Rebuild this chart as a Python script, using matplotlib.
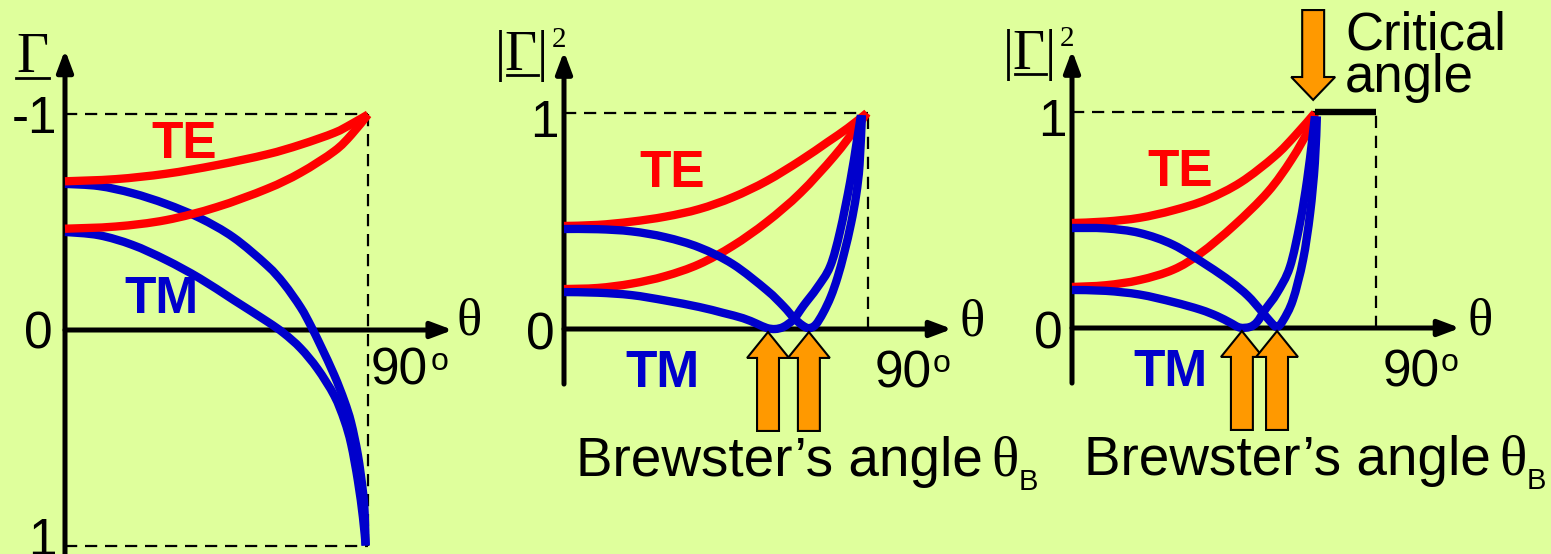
import matplotlib
matplotlib.use("Agg")
import matplotlib.pyplot as plt
from matplotlib.patches import FancyArrow, PathPatch
from matplotlib.path import Path

W, H = 1551, 554
BG = "#dfff9c"
RED = "#ff0000"
BLUE = "#0000cc"
ORANGE = "#ff9900"
SANS = "Liberation Sans"
SERIF = "Liberation Serif"

# ---- panel 1 : reflection coefficient Gamma (axis runs -1 at top to 1 at bottom)
p1_te_theta = [0, 15, 30, 45, 60, 70, 80, 85, 90]
p1_te_hi = [-0.69, -0.70, -0.725, -0.765, -0.815, -0.86, -0.915, -0.955, -1.0]
p1_te_lo = [-0.47, -0.48, -0.51, -0.57, -0.655, -0.73, -0.83, -0.905, -1.0]
p1_tm_hi_theta = [0, 10, 20, 30, 40, 50, 60, 65, 70, 73, 76, 80, 83, 85, 87, 88.5, 89.0,
                  89.3]
p1_tm_hi = [-0.678, -0.668, -0.635, -0.585, -0.52, -0.43, -0.30, -0.215, -0.105, -0.02,
            0.075, 0.21, 0.33, 0.43, 0.58, 0.75, 0.85, 1.0]
p1_tm_lo_theta = [0, 10, 20, 30, 40, 50, 60, 65, 70, 75, 80, 83, 85, 87, 88.5, 89.3]
p1_tm_lo = [-0.455, -0.44, -0.395, -0.325, -0.24, -0.14, -0.04, 0.015, 0.085, 0.18, 0.305,
            0.42, 0.53, 0.70, 0.87, 1.0]

# ---- panel 2 : |Gamma|^2, external reflection
p2_te_hi_theta = [0, 10, 20, 30, 40, 50, 60, 70, 78, 84, 89.7]
p2_te_hi = [0.477, 0.482, 0.497, 0.52, 0.555, 0.61, 0.685, 0.78, 0.865, 0.93, 1.0]
p2_te_lo_theta = [0, 10, 20, 30, 40, 50, 60, 70, 80, 86.7, 89.7]
p2_te_lo = [0.185, 0.19, 0.21, 0.245, 0.30, 0.385, 0.495, 0.63, 0.80, 0.935, 1.0]
p2_tm_a_theta = [0, 10, 20, 30, 40, 50, 60, 65, 68, 70.5, 72.5, 74.5, 76.7, 79, 81, 83, 85,
                 86.5, 87.5, 88.2]
p2_tm_a = [0.463, 0.462, 0.452, 0.425, 0.378, 0.30, 0.18, 0.105, 0.052, 0.018, 0.004, 0.02,
           0.074, 0.15, 0.24, 0.355, 0.49, 0.62, 0.76, 0.99]
p2_tm_b_theta = [0, 10, 20, 30, 40, 47, 53, 57, 60, 62.5, 65, 68, 71, 74.9, 78.8, 81.7, 84.7,
                 86.7, 87.9]
p2_tm_b = [0.171, 0.168, 0.157, 0.132, 0.102, 0.075, 0.05, 0.025, 0.005, 0.0, 0.01, 0.045,
           0.11, 0.19, 0.29, 0.45, 0.68, 0.87, 0.99]
p2_brewster = [60.4, 72.5]

# ---- panel 3 : |Gamma|^2, internal reflection with critical angle
p3_te_hi_theta = [0, 10, 20, 30, 40, 50, 60, 66, 71.9]
p3_te_hi = [0.486, 0.493, 0.51, 0.545, 0.595, 0.675, 0.795, 0.89, 0.995]
p3_te_lo_theta = [0, 10, 20, 30, 38, 48, 58, 65, 70.5, 71.9]
p3_te_lo = [0.19, 0.198, 0.222, 0.27, 0.345, 0.475, 0.63, 0.78, 0.93, 0.995]
p3_tm_a_theta = [0, 10, 20, 30, 40, 47, 52, 56, 59, 60.7, 62.5, 65.4, 68.4, 70.5, 71.9, 72.5]
p3_tm_a = [0.463, 0.461, 0.44, 0.385, 0.29, 0.215, 0.15, 0.08, 0.025, 0.005, 0.035, 0.13,
           0.315, 0.532, 0.764, 0.98]
p3_tm_b_theta = [0, 10, 20, 30, 38, 43, 46.8, 49.7, 52.7, 54.8, 57.1, 60.7, 64.5, 67.5, 69.6,
                 71.1, 71.9]
p3_tm_b = [0.176, 0.172, 0.155, 0.12, 0.085, 0.055, 0.025, 0.002, 0.005, 0.028, 0.083, 0.162,
           0.282, 0.486, 0.685, 0.87, 0.98]
p3_brewster = [50.3, 60.7]
p3_critical = 71.9

fig = plt.figure(figsize=(W / 100, H / 100), dpi=100, facecolor=BG)


def make_panel(left, right, x0, y0, sx, sy, flip=False):
    # one axes per panel, sized so theta/value units land where the sketch has them
    ax = fig.add_axes([left / W, 0, (right - left) / W, 1])
    ax.set_xlim((left - x0) / sx, (right - x0) / sx)
    if flip:
        ax.set_ylim((H - y0) / sy, -y0 / sy)
    else:
        ax.set_ylim((y0 - H) / sy, y0 / sy)
    ax.axis("off")
    return ax


def curve(ax, x, y, color):
    # smooth line through the read points (Catmull-Rom drawn as cubic Bezier segments)
    pts = list(zip(x, y))
    verts = [pts[0]]
    codes = [Path.MOVETO]
    n = len(pts)
    for i in range(n - 1):
        p0 = pts[max(i - 1, 0)]
        p1 = pts[i]
        p2 = pts[i + 1]
        p3 = pts[min(i + 2, n - 1)]
        c1 = (p1[0] + (p2[0] - p0[0]) / 6, p1[1] + (p2[1] - p0[1]) / 6)
        c2 = (p2[0] - (p3[0] - p1[0]) / 6, p2[1] - (p3[1] - p1[1]) / 6)
        verts += [c1, c2, p2]
        codes += [Path.CURVE4] * 3
    ax.add_patch(PathPatch(Path(verts, codes), fill=False, edgecolor=color, lw=6.0,
                           capstyle="butt", joinstyle="round", clip_on=False, zorder=3))


def dashed(ax, x, y):
    ax.plot(x, y, color="k", lw=1.6, ls=(0, (5.5, 3.5)), clip_on=False)


def axis_arrow(ax, start, tip):
    ax.annotate("", xy=tip, xytext=start,
                arrowprops=dict(arrowstyle="-|>,head_length=0.8,head_width=0.3",
                                mutation_scale=16, lw=3.6, color="k",
                                shrinkA=0, shrinkB=0), annotation_clip=False)


def block_arrow(ax, x, y, dy, width, head_w, head_l):
    ax.add_patch(FancyArrow(x, y, 0, dy, width=width, head_width=head_w, head_length=head_l,
                            length_includes_head=True, fc=ORANGE, ec="k", lw=1.5,
                            clip_on=False, zorder=4))


def label(ax, x, y, s, size=37, family=SANS, **kw):
    kw.setdefault("ha", "center")
    kw.setdefault("va", "baseline")
    ax.text(x, y, s, fontsize=size, family=family, clip_on=False, **kw)


def power_panel(ax, te_hi, te_lo, tm_a, tm_b, brewster, top_end):
    dashed(ax, [0, top_end], [1, 1])
    dashed(ax, [90, 90], [0, 1])
    axis_arrow(ax, (0, -0.255), (0, 1.285))
    axis_arrow(ax, (0, 0), (114.9, 0))
    curve(ax, te_hi[0], te_hi[1], RED)
    curve(ax, te_lo[0], te_lo[1], RED)
    curve(ax, tm_a[0], tm_a[1], BLUE)
    curve(ax, tm_b[0], tm_b[1], BLUE)
    for b in brewster:
        block_arrow(ax, b, -0.472, 0.458, 6.5, 12.4, 0.12)
    label(ax, -12.4, 1.199, "|Γ|", size=40, family=SERIF)
    ax.plot([-16.9, -7.7], [1.176, 1.176], color="k", lw=2.0, clip_on=False)
    label(ax, -1.6, 1.305, "2", size=21, family=SERIF)
    label(ax, -1.5, 0.889, "1", ha="right")
    label(ax, -2.8, -0.097, "0", ha="right")
    label(ax, 120.7, -0.032, "θ", size=38, family=SERIF)
    label(ax, 92.1, -0.269, "90", ha="left")
    label(ax, 111.8, -0.199, "o", size=23)
    label(ax, 32.0, 0.657, "TE", weight="bold", color=RED)
    label(ax, 29.0, -0.269, "TM", weight="bold", color=BLUE)
    label(ax, 3.55, -0.68, "Brewster’s angle", size=39.5, ha="left")
    label(ax, 130.6, -0.68, "θ", size=41, family=SERIF)
    label(ax, 137.6, -0.745, "B", size=21)


# panel 1
ax1 = make_panel(0, 500, 65, 330, 303 / 90, 215.5, flip=True)
dashed(ax1, [0, 90], [-1, -1])
dashed(ax1, [0, 90], [1, 1])
dashed(ax1, [90, 90], [-1, 1])
axis_arrow(ax1, (0, 1.04), (0, -1.30))
axis_arrow(ax1, (0, 0), (115.2, 0))
curve(ax1, p1_tm_hi_theta, p1_tm_hi, BLUE)
curve(ax1, p1_tm_lo_theta, p1_tm_lo, BLUE)
curve(ax1, p1_te_theta, p1_te_hi, RED)
curve(ax1, p1_te_theta, p1_te_lo, RED)
label(ax1, -9.8, -1.197, "Γ", size=40, family=SERIF)
ax1.plot([-14.6, -4.75], [-1.169, -1.169], color="k", lw=2.0, clip_on=False)
label(ax1, -2.4, -0.914, "-1", ha="right")
label(ax1, -3.7, 0.088, "0", ha="right")
label(ax1, -2.4, 1.044, "1", ha="right")
label(ax1, 120.1, 0.019, "θ", size=38, family=SERIF)
label(ax1, 90.9, 0.255, "90", ha="left")
label(ax1, 111.4, 0.186, "o", size=23)
label(ax1, 35.5, -0.798, "TE", weight="bold", color=RED)
label(ax1, 28.5, -0.079, "TM", weight="bold", color=BLUE)

# panel 2
ax2 = make_panel(500, 1040, 564, 329, 304 / 90, 216)
power_panel(ax2, (p2_te_hi_theta, p2_te_hi), (p2_te_lo_theta, p2_te_lo),
            (p2_tm_a_theta, p2_tm_a), (p2_tm_b_theta, p2_tm_b), p2_brewster, 90)

# panel 3
ax3 = make_panel(1040, 1551, 1072, 328, 304 / 90, 216)
power_panel(ax3, (p3_te_hi_theta, p3_te_hi), (p3_te_lo_theta, p3_te_lo),
            (p3_tm_a_theta, p3_tm_a), (p3_tm_b_theta, p3_tm_b), p3_brewster, p3_critical)
ax3.plot([p3_critical, 90], [1, 1], color="k", lw=4.6, solid_capstyle="butt", zorder=5,
         clip_on=False)
block_arrow(ax3, 71.4, 1.472, -0.416, 6.5, 13.0, 0.106)
label(ax3, 80.8, 1.29, "Critical", size=38, ha="left")
label(ax3, 80.8, 1.093, "angle", size=38, ha="left")

fig.savefig("out.png", dpi=100, facecolor=BG)
